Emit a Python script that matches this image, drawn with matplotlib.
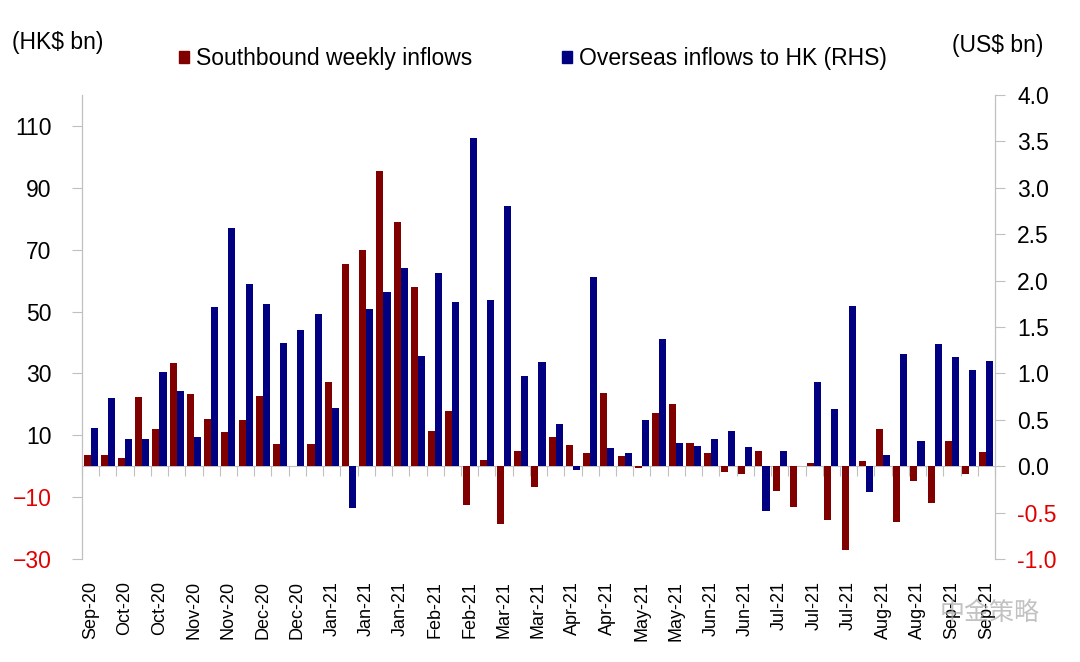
import numpy as np
import matplotlib.pyplot as plt
from matplotlib.patches import Patch

plt.rcParams['font.family'] = ['Liberation Sans', 'DejaVu Sans']

# weekly data, Sep-20 to Sep-21
southbound = [3.6, 3.6, 2.7, 22.3, 12.1, 33.2, 23.3, 15.4, 11.2, 14.8,
              22.7, 7.3, 0.1, 7.2, 27.2, 65.4, 70.0, 95.3, 79.1, 57.9,
              11.4, 17.8, -12.7, 2.0, -18.8, 4.8, -6.6, 9.5, 6.9, 4.4,
              23.8, 3.4, -0.6, 17.1, 20.2, 7.6, 4.3, -1.8, -2.6, 4.9,
              -8.1, -13.3, 1.1, -17.3, -27.1, 1.6, 12.0, -18.1, -4.8, -11.8,
              8.1, -2.5, 4.5]
overseas = [0.41, 0.74, 0.29, 0.29, 1.01, 0.81, 0.31, 1.72, 2.57, 1.96,
            1.75, 1.33, 1.47, 1.64, 0.63, -0.45, 1.69, 1.88, 2.14, 1.19,
            2.08, 1.77, 3.54, 1.79, 2.80, 0.97, 1.12, 0.45, -0.04, 2.04,
            0.20, 0.14, 0.50, 1.37, 0.25, 0.22, 0.29, 0.38, 0.21, -0.48,
            0.16, 0.0, 0.91, 0.62, 1.73, -0.28, 0.12, 1.21, 0.27, 1.32,
            1.18, 1.04, 1.13]
labels = ['Sep-20', 'Oct-20', 'Oct-20', 'Nov-20', 'Nov-20', 'Dec-20', 'Dec-20',
          'Jan-21', 'Jan-21', 'Jan-21', 'Feb-21', 'Feb-21', 'Mar-21', 'Mar-21',
          'Apr-21', 'Apr-21', 'May-21', 'May-21', 'Jun-21', 'Jun-21',
          'Jul-21', 'Jul-21', 'Jul-21', 'Aug-21', 'Aug-21', 'Sep-21', 'Sep-21']

RED = '#800000'
BLUE = '#000080'
NEG = '#e00000'
GREY = '#c0c0c0'

x = np.arange(len(southbound))
w = 0.41

fig = plt.figure(figsize=(10.8, 6.62), dpi=100)
ax = fig.add_axes([0.0759, 0.1556, 0.8454, 0.7009])
ax2 = ax.twinx()

ax.bar(x - w / 2, southbound, w, color=RED)
ax2.bar(x + w / 2, overseas, w, color=BLUE)

lo, hi = -30, 120
ax.set_ylim(lo, hi)
ax2.set_ylim(-1.0, 4.0)
ax.set_xlim(-0.5, len(x) - 0.5)

ax.set_yticks(np.arange(-30, 111, 20))
ax2.set_yticks(np.arange(-1.0, 4.01, 0.5))
ax2.set_yticklabels(['%.1f' % v for v in np.arange(-1.0, 4.01, 0.5)])

for a in (ax, ax2):
    for s in ('top', 'bottom'):
        a.spines[s].set_visible(False)
    for s in ('left', 'right'):
        a.spines[s].set_color(GREY)
ax.tick_params(axis='y', length=7, color=GREY, labelsize=16.5, pad=15)
ax2.tick_params(axis='y', length=7, color=GREY, labelsize=16.5, pad=9)
for a, ticks in ((ax, ax.get_yticks()), (ax2, ax2.get_yticks())):
    for t, v in zip(a.get_yticklabels(), ticks):
        t.set_color(NEG if v < 0 else 'black')

# month labels under every second week
ax.set_xticks(x[::2])
ax.set_xticklabels(labels, rotation=90, fontsize=13)
ax.tick_params(axis='x', length=0, pad=16)

# zero line with week separators
zero = ax.secondary_xaxis((0 - lo) / (hi - lo))
zero.set_xticks(np.arange(len(x) + 1) - 0.5)
zero.tick_params(length=7, color=GREY, labelbottom=False)
zero.spines['bottom'].set_color(GREY)

ax2.set_zorder(1)

fig.text(0.011, 0.936, '(HK$ bn)', fontsize=16.5, va='center')
fig.text(0.924, 0.932, '(US$ bn)', fontsize=16.5, va='center', ha='center')

handles = [Patch(color=RED, label='Southbound weekly inflows'),
           Patch(color=BLUE, label='Overseas inflows to HK (RHS)')]
fig.legend(handles=handles, ncol=2, loc='center', bbox_to_anchor=(0.4935, 0.911),
           frameon=False, fontsize=16.5, handlelength=0.45, handleheight=0.45,
           handletextpad=0.3, columnspacing=3.9)

fig.text(0.870, 0.074, '中金策略', fontsize=18, color='#a8a8a8', alpha=0.7,
         va='center', family=['Noto Sans CJK SC', 'DejaVu Sans'])

fig.savefig('out.png', dpi=100)
